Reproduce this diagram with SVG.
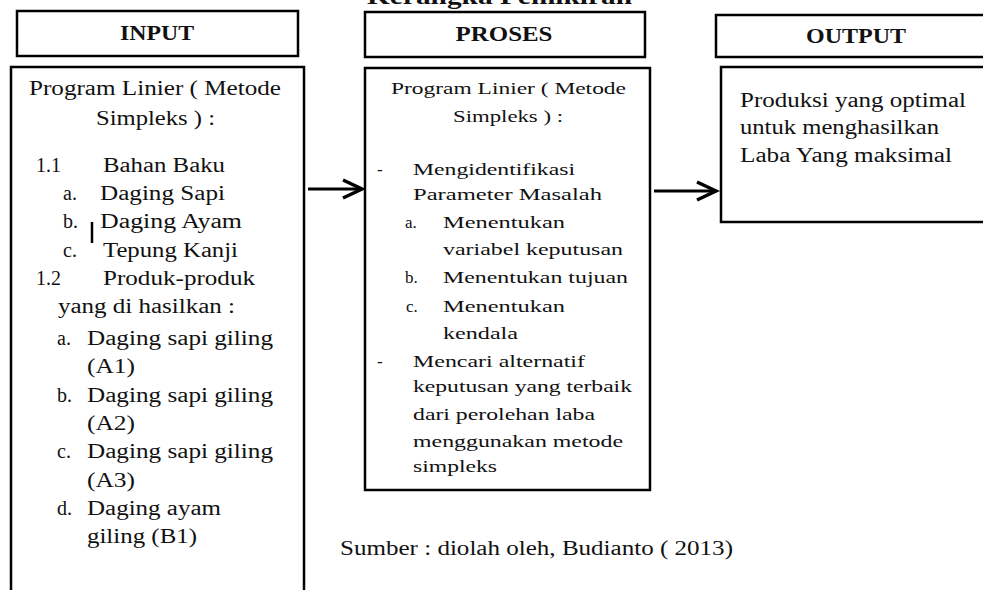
<svg xmlns="http://www.w3.org/2000/svg" width="983" height="590" viewBox="0 0 983 590">
<defs>
<style>
.box{fill:#fff;stroke:#000;stroke-width:2.5}
.hd{font-family:"Liberation Serif",serif;font-weight:bold;font-size:22px;fill:#111;text-anchor:middle}
.t{font-family:"Liberation Serif",serif;font-size:20px;fill:#111}
.p{font-family:"Liberation Serif",serif;font-size:17px;fill:#111}
.c{stroke:#000;stroke-width:3;fill:none}
</style>
<marker id="ah" markerUnits="userSpaceOnUse" markerWidth="30" markerHeight="30" refX="22" refY="10" orient="auto" viewBox="0 0 30 20">
<polyline points="3,1 22,10 3,19" fill="none" stroke="#000" stroke-width="3.5" stroke-linejoin="miter"/>
</marker>
</defs>
<rect width="983" height="590" fill="#fff"/>
<text x="367" y="4" font-family="Liberation Serif,serif" font-weight="bold" font-size="24" fill="#111" textLength="265" lengthAdjust="spacingAndGlyphs">Kerangka Pemikiran</text>

<g id="input-header">
<rect class="box" x="17" y="11" width="281" height="45"/>
<text class="hd" x="157" y="40" textLength="74" lengthAdjust="spacingAndGlyphs">INPUT</text>
</g>
<g id="proses-header">
<rect class="box" x="365" y="12" width="280" height="45"/>
<text class="hd" x="504" y="41" textLength="97" lengthAdjust="spacingAndGlyphs">PROSES</text>
</g>
<g id="output-header">
<rect class="box" x="716" y="15" width="280" height="42"/>
<text class="hd" x="856" y="43" textLength="100" lengthAdjust="spacingAndGlyphs">OUTPUT</text>
</g>

<g id="input">
<rect class="box" x="11" y="67" width="293" height="540"/>
<text class="t" x="29" y="95" textLength="252" lengthAdjust="spacingAndGlyphs">Program Linier ( Metode</text>
<text class="t" x="96" y="125" textLength="119" lengthAdjust="spacingAndGlyphs">Simpleks ) :</text>
<text class="t" x="36" y="172">1.1</text>
<text class="t" x="103" y="172" textLength="122" lengthAdjust="spacingAndGlyphs">Bahan Baku</text>
<text class="t" x="63" y="200">a.</text>
<text class="t" x="100" y="200" textLength="125" lengthAdjust="spacingAndGlyphs">Daging Sapi</text>
<text class="t" x="63" y="228">b.</text>
<line x1="92" y1="222" x2="92" y2="243" stroke="#000" stroke-width="2.5"/>
<text class="t" x="100" y="228" textLength="142" lengthAdjust="spacingAndGlyphs">Daging Ayam</text>
<text class="t" x="63" y="257">c.</text>
<text class="t" x="103" y="257" textLength="135" lengthAdjust="spacingAndGlyphs">Tepung Kanji</text>
<text class="t" x="36" y="285">1.2</text>
<text class="t" x="103" y="285" textLength="152" lengthAdjust="spacingAndGlyphs">Produk-produk</text>
<text class="t" x="58" y="313" textLength="177" lengthAdjust="spacingAndGlyphs">yang di hasilkan :</text>
<text class="t" x="57" y="345">a.</text>
<text class="t" x="87" y="345" textLength="186" lengthAdjust="spacingAndGlyphs">Daging sapi giling</text>
<text class="t" x="87" y="373" textLength="48" lengthAdjust="spacingAndGlyphs">(A1)</text>
<text class="t" x="57" y="402">b.</text>
<text class="t" x="87" y="402" textLength="186" lengthAdjust="spacingAndGlyphs">Daging sapi giling</text>
<text class="t" x="87" y="430" textLength="48" lengthAdjust="spacingAndGlyphs">(A2)</text>
<text class="t" x="57" y="458">c.</text>
<text class="t" x="87" y="458" textLength="186" lengthAdjust="spacingAndGlyphs">Daging sapi giling</text>
<text class="t" x="87" y="487" textLength="48" lengthAdjust="spacingAndGlyphs">(A3)</text>
<text class="t" x="57" y="515">d.</text>
<text class="t" x="87" y="515" textLength="134" lengthAdjust="spacingAndGlyphs">Daging ayam</text>
<text class="t" x="87" y="543" textLength="110" lengthAdjust="spacingAndGlyphs">giling (B1)</text>
</g>

<g id="proses">
<rect class="box" x="365" y="68" width="285" height="422"/>
<text class="p" x="391" y="94" textLength="235" lengthAdjust="spacingAndGlyphs">Program Linier ( Metode</text>
<text class="p" x="453" y="122" textLength="110" lengthAdjust="spacingAndGlyphs">Simpleks ) :</text>
<text class="p" x="377" y="175">-</text>
<text class="p" x="413" y="175" textLength="162" lengthAdjust="spacingAndGlyphs">Mengidentifikasi</text>
<text class="p" x="413" y="200" textLength="189" lengthAdjust="spacingAndGlyphs">Parameter Masalah</text>
<text class="p" x="405" y="228">a.</text>
<text class="p" x="443" y="228" textLength="122" lengthAdjust="spacingAndGlyphs">Menentukan</text>
<text class="p" x="443" y="255" textLength="180" lengthAdjust="spacingAndGlyphs">variabel keputusan</text>
<text class="p" x="405" y="283">b.</text>
<text class="p" x="443" y="283" textLength="185" lengthAdjust="spacingAndGlyphs">Menentukan tujuan</text>
<text class="p" x="406" y="312">c.</text>
<text class="p" x="443" y="312" textLength="122" lengthAdjust="spacingAndGlyphs">Menentukan</text>
<text class="p" x="443" y="339" textLength="75" lengthAdjust="spacingAndGlyphs">kendala</text>
<text class="p" x="377" y="367">-</text>
<text class="p" x="413" y="367" textLength="172" lengthAdjust="spacingAndGlyphs">Mencari alternatif</text>
<text class="p" x="413" y="392" textLength="219" lengthAdjust="spacingAndGlyphs">keputusan yang terbaik</text>
<text class="p" x="413" y="420" textLength="182" lengthAdjust="spacingAndGlyphs">dari perolehan laba</text>
<text class="p" x="413" y="447" textLength="210" lengthAdjust="spacingAndGlyphs">menggunakan metode</text>
<text class="p" x="413" y="472" textLength="84" lengthAdjust="spacingAndGlyphs">simpleks</text>
</g>

<g id="output">
<rect class="box" x="721" y="67" width="280" height="155"/>
<text class="t" x="740" y="107" textLength="226" lengthAdjust="spacingAndGlyphs">Produksi yang optimal</text>
<text class="t" x="740" y="134" textLength="199" lengthAdjust="spacingAndGlyphs">untuk menghasilkan</text>
<text class="t" x="740" y="162" textLength="212" lengthAdjust="spacingAndGlyphs">Laba Yang maksimal</text>
</g>

<g id="connectors">
<line class="c" x1="308" y1="189" x2="362" y2="189" marker-end="url(#ah)"/>
<line class="c" x1="654" y1="191" x2="716" y2="191" marker-end="url(#ah)"/>
</g>

<text class="t" x="340" y="555" textLength="393" lengthAdjust="spacingAndGlyphs">Sumber : diolah oleh, Budianto ( 2013)</text>
</svg>
